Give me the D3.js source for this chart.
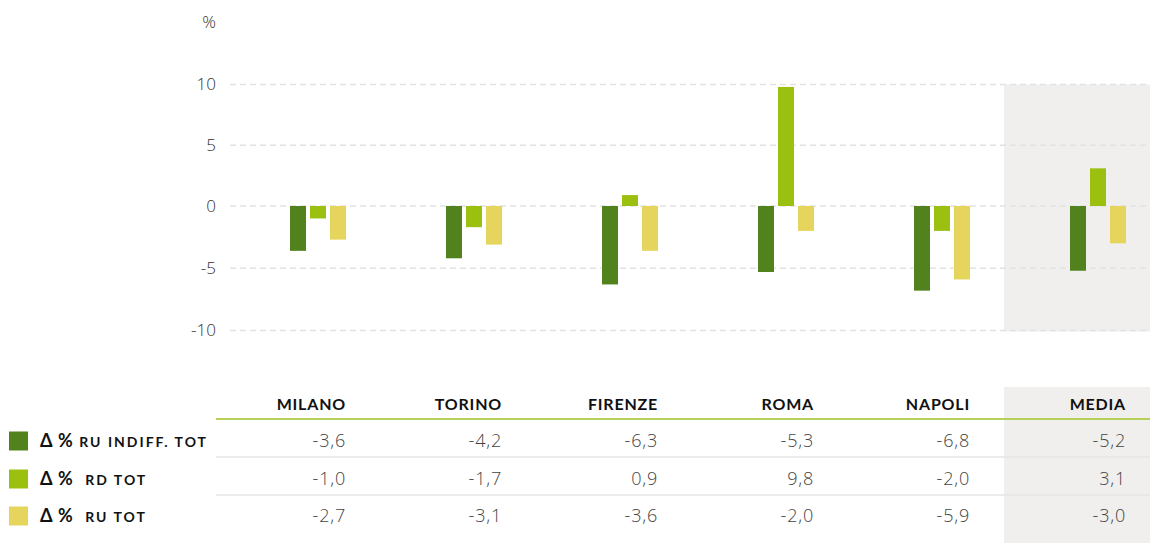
<!DOCTYPE html>
<html><head><meta charset="utf-8">
<script src="https://cdn.jsdelivr.net/npm/d3@7"></script>
<style>
html,body{margin:0;padding:0;background:#fff;}
svg{display:block;font-family:Lato,"Open Sans",sans-serif;}
</style></head><body>
<svg id="c" width="1150" height="543"></svg>
<script>
const categories = ["MILANO","TORINO","FIRENZE","ROMA","NAPOLI","MEDIA"];
const seriesNames = ["RU INDIFF. TOT","RD TOT","RU TOT"];
const ruIndiff = [-3.6,-4.2,-6.3,-5.3,-6.8,-5.2];
const rdTot = [-1.0,-1.7,0.9,9.8,-2.0,3.1];
const ruTot = [-2.7,-3.1,-3.6,-2.0,-5.9,-3.0];
const yTicks = [-10,-5,0,5,10];
const colors = ["#52821d","#9bc010","#e6d55d"];
const series = [ruIndiff, rdTot, ruTot];

const svg = d3.select("#c");
const W = 1150, H = 543;
const y = d3.scaleLinear().domain([-10,0,10]).range([330.5,206,84.5]);
const gx = d3.scalePoint().domain(categories).range([290,1070]);
const inner = d3.scaleBand().domain(d3.range(3)).range([0,56]).paddingInner(0.2);
const fmt = v => d3.format(".1f")(v).replace(".",",").replace("\u2212","-");

// shaded MEDIA background
svg.append("rect").attr("x",1004).attr("y",y(10)).attr("width",W-1004).attr("height",y(-10)-y(10)+1).attr("fill","#f0efed");
svg.append("rect").attr("x",1004).attr("y",387).attr("width",W-1004).attr("height",H-387).attr("fill","#f0efed");

// grid
svg.append("g").selectAll("line").data(yTicks).join("line")
  .attr("x1",230).attr("x2",W).attr("y1",d=>y(d)).attr("y2",d=>y(d))
  .attr("stroke","#e2e2e2").attr("stroke-width",1.5).attr("stroke-dasharray","6,4");

// y tick labels
svg.append("g").selectAll("text").data(yTicks).join("text")
  .attr("x",216).attr("y",d=>y(d)).attr("dy","0.35em").attr("text-anchor","end")
  .attr("font-size",17).attr("fill","#333").attr("font-family","'Open Sans',sans-serif").attr("font-weight",300)
  .text(d=>d);
svg.append("text").attr("x",216).attr("y",28).attr("text-anchor","end").attr("font-size",17)
  .attr("fill","#333").attr("font-family","'Open Sans',sans-serif").attr("font-weight",300).text("%");

// bars
series.forEach((vals,si)=>{
  svg.append("g").selectAll("rect").data(vals).join("rect")
    .attr("x",(d,i)=>gx(categories[i])+inner(si))
    .attr("width",inner.bandwidth())
    .attr("y",d=>y(Math.max(0,d)))
    .attr("height",d=>Math.abs(y(d)-y(0)))
    .attr("fill",colors[si]);
});

// table
const rightEdge = c => gx(c)+56;
svg.append("g").selectAll("text").data(categories).join("text")
  .attr("x",c=>rightEdge(c)).attr("y",410).attr("text-anchor","end")
  .attr("font-size",16).attr("font-weight",700).attr("fill","#111").attr("letter-spacing",0.8)
  .text(d=>d);
svg.append("line").attr("x1",216).attr("x2",W).attr("y1",419).attr("y2",419)
  .attr("stroke","#b7d05a").attr("stroke-width",2);
const rowY = [441,479,516];
[457,495].forEach(ly=>svg.append("line").attr("x1",216).attr("x2",W).attr("y1",ly).attr("y2",ly)
  .attr("stroke","#e6e6e6").attr("stroke-width",1.5));
series.forEach((vals,si)=>{
  svg.append("g").selectAll("text").data(vals).join("text")
    .attr("x",(d,i)=>rightEdge(categories[i])).attr("y",rowY[si]).attr("dy","0.35em")
    .attr("text-anchor","end").attr("font-size",18).attr("fill","#444").attr("letter-spacing",0.8)
    .attr("font-family","'Open Sans',sans-serif").attr("font-weight",300)
    .text(d=>fmt(d));
});

// legend
series.forEach((vals,si)=>{
  svg.append("rect").attr("x",9).attr("y",rowY[si]-9.5).attr("width",19).attr("height",19).attr("fill",colors[si]);
  const t = svg.append("text").attr("x",40).attr("y",rowY[si]).attr("dy","0.35em").attr("fill","#111").attr("font-weight",700);
  t.append("tspan").attr("font-size",18).attr("letter-spacing",0.5).text("Δ %");
  t.append("tspan").attr("font-size",14).attr("letter-spacing",2).attr("dx",si===0?6:12).text(seriesNames[si]);
});
</script>
</body></html>
